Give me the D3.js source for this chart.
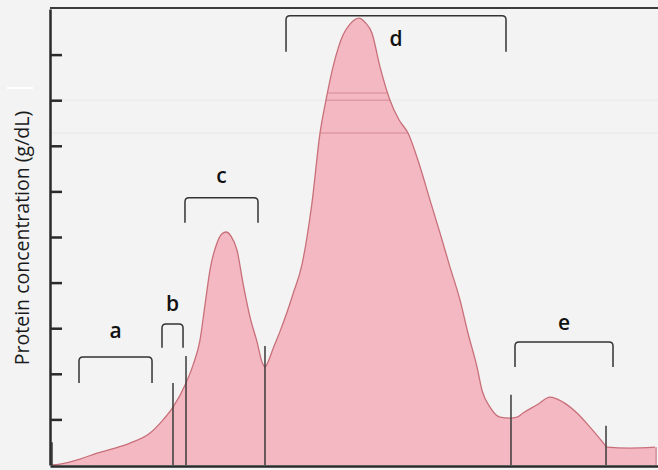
<!DOCTYPE html>
<html>
<head>
<meta charset="utf-8">
<script src="https://cdn.jsdelivr.net/npm/d3@7"></script>
<style>
  html, body { margin: 0; padding: 0; background: #f3f3f3; }
  svg { display: block; }
</style>
</head>
<body>
<svg id="canvas"></svg>
<script>
// Densitometry trace: relative mobility (0-100) vs protein concentration (g/dL, arbitrary 0-10)
var mobility = [0.33, 1.64, 4.93, 7.73, 10.69, 13.16, 16.45, 18.59, 20.23, 22.37, 23.52, 24.67, 25.49,
  26.32, 27.47, 28.29, 28.95, 29.77, 30.76, 31.74, 32.89, 34.05, 34.87, 35.36, 35.86, 36.68, 37.83,
  38.98, 39.97, 41.45, 42.27, 43.09, 44.41, 45.39, 46.55, 48.19, 49.34, 50.82, 51.81, 52.96, 54.28,
  55.92, 57.40, 58.88, 60.86, 62.50, 64.14, 65.79, 67.43, 68.75, 70.23, 71.05, 72.37, 74.01, 75.66,
  76.81, 77.80, 80.10, 82.24, 84.38, 86.68, 88.82, 91.04, 91.61, 95.39, 99.51];
var concentration = [0, 0.02, 0.13, 0.26, 0.37, 0.48, 0.70, 0.99, 1.27, 1.80, 2.19, 2.74, 3.51,
  4.28, 4.87, 5.07, 5.11, 5.02, 4.71, 3.99, 3.25, 2.70, 2.26, 2.15, 2.26, 2.55, 2.93,
  3.35, 3.75, 4.40, 5.00, 5.75, 7.28, 8.00, 8.73, 9.43, 9.67, 9.80, 9.71, 9.47, 8.73,
  8.00, 7.57, 7.28, 6.54, 5.81, 5.09, 4.34, 3.62, 2.89, 2.15, 1.64, 1.27, 1.05, 1.03,
  1.05, 1.14, 1.32, 1.49, 1.38, 1.14, 0.83, 0.48, 0.39, 0.37, 0.39];

// Fraction dividers (position, height)
var dividerX = [0.33, 20.23, 22.37, 35.36, 75.82, 91.45];
var dividerTop = [0.50, 1.80, 2.39, 2.61, 1.54, 0.86];

// Fraction brackets
var fractionNames = ['a', 'b', 'c', 'd', 'e'];
var bracketStart = [4.77, 18.42, 22.20, 38.82, 76.48];
var bracketEnd = [16.78, 21.88, 34.21, 75.0, 92.60];
var bracketTop = [2.37, 3.09, 5.86, 9.85, 2.70];
var bracketBottom = [1.80, 2.57, 5.31, 9.06, 2.15];
var labelLevel = [2.79, 3.38, 6.18, 9.19, 2.96];

var yTicks = [1, 2, 3, 4, 5, 6, 7, 8, 9];
var scanLines = [8.16, 8.00, 7.28];

var canvasWidth = 658;
var canvasHeight = 470;
var margin = { top: 9, right: 0, bottom: 5, left: 50 };

var svg = d3.select('#canvas')
  .attr('width', canvasWidth)
  .attr('height', canvasHeight);

var x = d3.scaleLinear().domain([0, 100]).range([margin.left, canvasWidth - margin.right]);
var y = d3.scaleLinear().domain([0, 10]).range([canvasHeight - margin.bottom, margin.top]);

var trace = mobility.map(function(m, i) {
  return { m: m, c: concentration[i] };
});

// scanner artefact on the left
svg.append('line')
  .attr('x1', 7).attr('x2', 33)
  .attr('y1', 88).attr('y2', 88)
  .attr('stroke', '#ffffff')
  .attr('stroke-width', 2);

// faint scan lines on the background
svg.append('g')
  .selectAll('line')
  .data(scanLines.slice(1))
  .enter()
  .append('line')
  .attr('x1', x(0)).attr('x2', x(100))
  .attr('y1', function(d) { return y(d); })
  .attr('y2', function(d) { return y(d); })
  .attr('stroke', '#000')
  .attr('stroke-opacity', 0.025)
  .attr('stroke-width', 2);

var area = d3.area()
  .x(function(d) { return x(d.m); })
  .y0(y(0))
  .y1(function(d) { return y(d.c); })
  .curve(d3.curveMonotoneX);

var line = d3.line()
  .x(function(d) { return x(d.m); })
  .y(function(d) { return y(d.c); })
  .curve(d3.curveMonotoneX);

svg.append('clipPath')
  .attr('id', 'trace-clip')
  .append('path')
  .attr('d', area(trace));

svg.append('path')
  .attr('d', area(trace))
  .attr('fill', '#f4b8c2');

// scan lines show darker through the fill
svg.append('g')
  .attr('clip-path', 'url(#trace-clip)')
  .selectAll('line')
  .data(scanLines)
  .enter()
  .append('line')
  .attr('x1', x(0)).attr('x2', x(100))
  .attr('y1', function(d) { return y(d); })
  .attr('y2', function(d) { return y(d); })
  .attr('stroke', '#a04050')
  .attr('stroke-opacity', 0.25)
  .attr('stroke-width', 1.5);

svg.append('path')
  .attr('d', line(trace))
  .attr('fill', 'none')
  .attr('stroke', '#c8707a')
  .attr('stroke-width', 1.3);

// right edge of the trace
svg.append('line')
  .attr('x1', x(mobility[mobility.length - 1]) + 1)
  .attr('x2', x(mobility[mobility.length - 1]) + 1)
  .attr('y1', y(concentration[concentration.length - 1]))
  .attr('y2', y(0))
  .attr('stroke', '#c8707a')
  .attr('stroke-width', 1.3);

// dividers
svg.append('g')
  .selectAll('line')
  .data(dividerX)
  .enter()
  .append('line')
  .attr('x1', function(d) { return x(d); })
  .attr('x2', function(d) { return x(d); })
  .attr('y1', function(d, i) { return y(dividerTop[i]); })
  .attr('y2', y(0))
  .attr('stroke', '#3a3a3a')
  .attr('stroke-width', 1.5);

// brackets
var r = 4;
var brackets = svg.append('g')
  .selectAll('.bracket')
  .data(fractionNames)
  .enter()
  .append('g')
  .classed('bracket', true);

brackets.append('path')
  .attr('d', function(d, i) {
    var x0 = x(bracketStart[i]), x1 = x(bracketEnd[i]);
    var yt = y(bracketTop[i]), yb = y(bracketBottom[i]);
    return 'M' + x0 + ',' + yb + 'L' + x0 + ',' + (yt + r) +
      'Q' + x0 + ',' + yt + ' ' + (x0 + r) + ',' + yt +
      'L' + (x1 - r) + ',' + yt +
      'Q' + x1 + ',' + yt + ' ' + x1 + ',' + (yt + r) +
      'L' + x1 + ',' + yb;
  })
  .attr('fill', 'none')
  .attr('stroke', '#333')
  .attr('stroke-width', 1.5);

brackets.append('text')
  .attr('x', function(d, i) { return x((bracketStart[i] + bracketEnd[i]) / 2); })
  .attr('y', function(d, i) { return y(labelLevel[i]); })
  .attr('text-anchor', 'middle')
  .style('font-family', '"Open Sans", sans-serif')
  .style('font-size', '21px')
  .style('font-weight', 600)
  .style('fill', '#111')
  .text(function(d) { return d; });

// top frame
svg.append('line')
  .attr('x1', x(0)).attr('x2', x(100))
  .attr('y1', y(10) - 1).attr('y2', y(10) - 1)
  .attr('stroke', '#3a3a3a')
  .attr('stroke-width', 2);

// left axis with inward ticks
var yAxis = d3.axisRight(y)
  .tickValues(yTicks)
  .tickSize(12)
  .tickSizeOuter(0)
  .tickFormat('');

var yAxisG = svg.append('g')
  .attr('transform', 'translate(' + x(0) + ',0)')
  .call(yAxis);
yAxisG.selectAll('line').attr('stroke', '#2a2a2a').attr('stroke-width', 2.5);
yAxisG.select('.domain').attr('stroke', '#2a2a2a').attr('stroke-width', 2.5);

// bottom axis
var xAxisG = svg.append('g')
  .attr('transform', 'translate(0,' + (y(0) + 1) + ')')
  .call(d3.axisBottom(x).tickValues([]).tickSizeOuter(0));
xAxisG.select('.domain').attr('stroke', '#2a2a2a').attr('stroke-width', 2.5);

// axis label
svg.append('text')
  .attr('transform', 'translate(29,' + ((y(0) + y(10)) / 2 + 1) + ') rotate(-90)')
  .attr('text-anchor', 'middle')
  .style('font-family', '"Open Sans", sans-serif')
  .style('font-size', '19.5px')
  .style('fill', '#1a1a1a')
  .text('Protein concentration (g/dL)');
</script>
</body>
</html>
